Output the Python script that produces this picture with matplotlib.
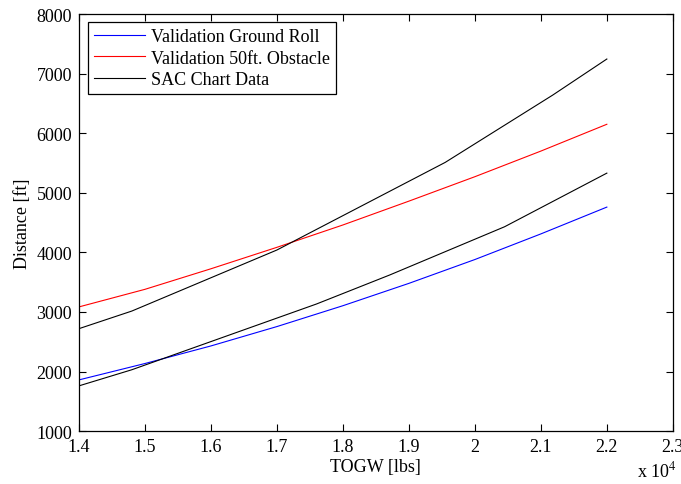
import numpy as np
import matplotlib.pyplot as plt

plt.rcParams['font.family'] = ['Liberation Serif', 'DejaVu Serif']
plt.rcParams['mathtext.fontset'] = 'stix'

# Validation runs (TOGW in lbs, distances in ft)
togw_val = [14000, 15000, 16000, 17000, 18000, 19000, 20000, 21000, 22000]
ground_roll = [1860, 2135, 2430, 2755, 3105, 3480, 3880, 4310, 4760]
obstacle_50ft = [3085, 3380, 3725, 4085, 4460, 4860, 5270, 5700, 6150]

# Points
sac_togw_hi = [14000, 14800, 17000, 19550, 21180, 22000]
sac_dist_hi = [2720, 3015, 4040, 5510, 6640, 7245]
sac_togw_lo = [14000, 14800, 17600, 18710, 20450, 22000]
sac_dist_lo = [1760, 2030, 3134, 3621, 4430, 5330]

fig = plt.figure(figsize=(6.81, 4.85), dpi=100)
ax = fig.add_axes([0.116, 0.109, 0.872, 0.860])

sc = 1e4
ax.plot(np.array(togw_val) / sc, ground_roll, color='blue', lw=0.8, label='Validation Ground Roll')
ax.plot(np.array(togw_val) / sc, obstacle_50ft, color='red', lw=0.8, label='Validation 50ft. Obstacle')
ax.plot(np.array(sac_togw_hi) / sc, sac_dist_hi, color='black', lw=0.8, label='SAC Chart Data')
ax.plot(np.array(sac_togw_lo) / sc, sac_dist_lo, color='black', lw=0.8)

ax.set_xlim(1.4, 2.3)
ax.set_ylim(1000, 8000)
ax.set_xticks(np.arange(1.4, 2.31, 0.1))
ax.set_xticklabels(['%g' % round(t, 1) for t in np.arange(1.4, 2.31, 0.1)])
ax.set_yticks(range(1000, 8001, 1000))

ax.tick_params(direction='in', top=True, right=True, length=5, width=0.8,
               labelsize=13, pad=5)
for s in ax.spines.values():
    s.set_linewidth(0.9)

ax.set_xlabel('TOGW [lbs]', fontsize=13, labelpad=2)
ax.set_ylabel('Distance [ft]', fontsize=13, labelpad=4)
fig.text(0.935, 0.008, r'x 10$^4$', fontsize=13, ha='left', va='bottom')

leg = ax.legend(loc='upper left', bbox_to_anchor=(0.015, 0.981), fontsize=13,
                fancybox=False, framealpha=1, edgecolor='black',
                handlelength=2.8, handletextpad=0.35, borderpad=0.35,
                labelspacing=0.24, borderaxespad=0)
leg.get_frame().set_linewidth(0.9)
leg._legend_box.sep = 6

fig.savefig('out.png', dpi=100)
